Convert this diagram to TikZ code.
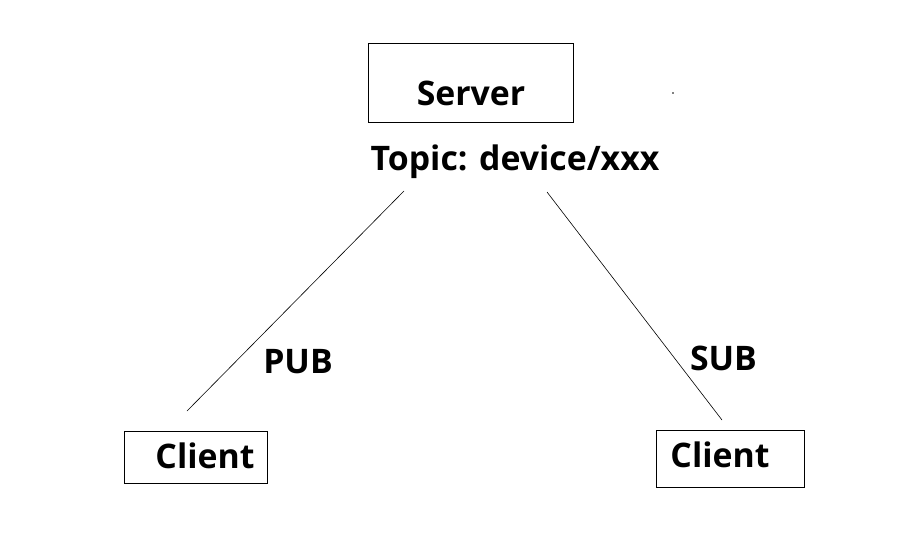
\documentclass[tikz,border=0pt]{standalone}
\usepackage{fontspec}
\setmainfont{Open Sans}
\begin{document}
\begin{tikzpicture}[x=1pt,y=-1pt,
  box/.style={draw,line width=1pt,inner sep=0pt,outer sep=0pt},
  lbl/.style={font=\bfseries\fontsize{33.8}{40}\selectfont,anchor=base,inner sep=0pt},
  wire/.style={line width=0.6pt}]
\useasboundingbox (0,0) rectangle (922,557);
\node[box,minimum width=205pt,minimum height=79pt] (server) at (470.5,82.5) {};
\node[lbl] (servertxt) at (471,105) {Server};
\node[lbl] (topic) at (515,170) {Topic: device/xxx};
\node[box,minimum width=143pt,minimum height=52pt] (clientL) at (195.5,457) {};
\node[lbl] (clientLtxt) at (205,468) {Client};
\node[box,minimum width=148pt,minimum height=57pt] (clientR) at (730,458.5) {};
\node[lbl] (clientRtxt) at (720,467) {Client};
\node[lbl] (pub) at (298,373) {PUB};
\node[lbl] (sub) at (723.5,370) {SUB};
\coordinate (l1) at (404,191);
\coordinate (l2) at (187,411);
\coordinate (r1) at (547,192);
\coordinate (r2) at (722,420);
\draw[wire] (l1) -- (l2);
\draw[wire] (r1) -- (r2);
\fill (673,93) circle (0.9pt);
\end{tikzpicture}
\end{document}
